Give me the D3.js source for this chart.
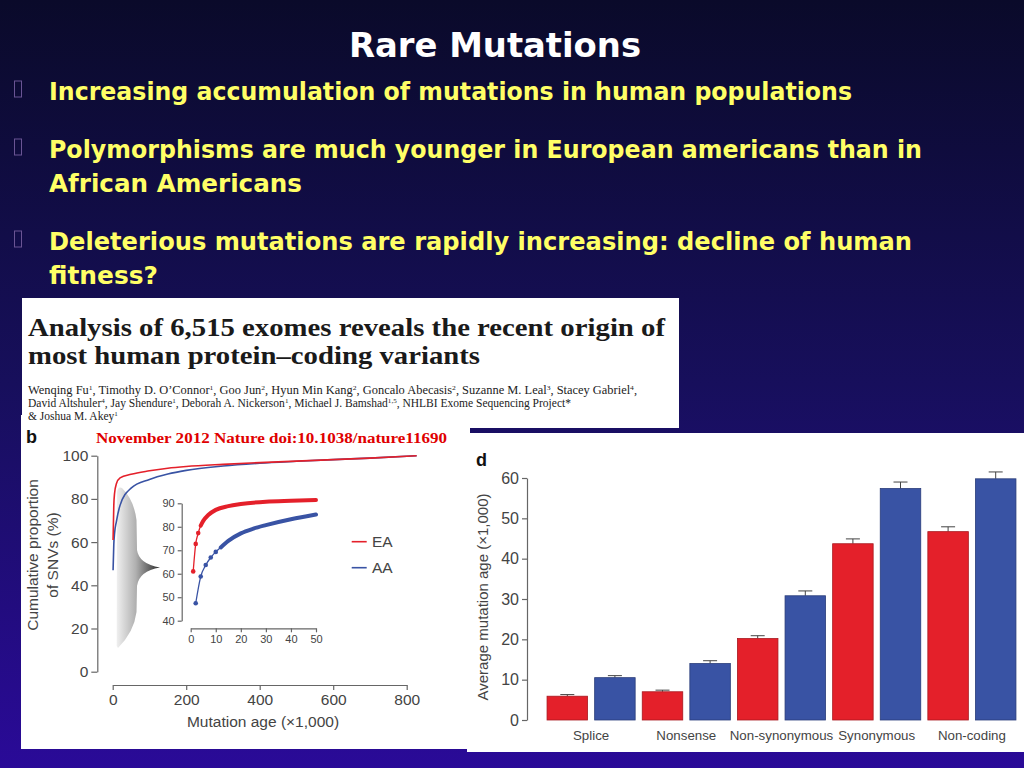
<!DOCTYPE html>
<html>
<head>
<meta charset="utf-8">
<script src="https://cdn.jsdelivr.net/npm/d3@7"></script>
<style>
  body { margin: 0; background: #0a0a2c; }
  svg { display: block; }
</style>
</head>
<body>
<div id="slide"></div>
<script>
// SLIDE TEXT
const slideTitle = "Rare Mutations";
const bulletLines = [
  ["Increasing accumulation of mutations in human populations"],
  ["Polymorphisms are much younger in European americans than in", "African Americans"],
  ["Deleterious mutations are rapidly increasing: decline of human", "fitness?"]
];
const paperTitle = ["Analysis of 6,515 exomes reveals the recent origin of", "most human protein\u2013coding variants"];
const authors1 = [["Wenqing Fu", "1"], ["Timothy D. O\u2019Connor", "1"], ["Goo Jun", "2"], ["Hyun Min Kang", "2"], ["Goncalo Abecasis", "2"], ["Suzanne M. Leal", "3"], ["Stacey Gabriel", "4"]];
const authors2 = [["David Altshuler", "4"], ["Jay Shendure", "1"], ["Deborah A. Nickerson", "1"], ["Michael J. Bamshad", "1,5"], ["NHLBI Exome Sequencing Project*", ""]];
const authors3 = [["& Joshua M. Akey", "1"]];
const citation = "November 2012 Nature doi:10.1038/nature11690";

// PANEL b : CUMULATIVE PROPORTION OF SNVs
const mainAge = [1, 3, 5, 10, 20, 50, 100, 150, 200, 300, 400, 500, 600, 700, 827];
const eaCum = [61, 77, 82.5, 87, 89.7, 91.4, 93, 94.2, 95, 96, 96.8, 97.5, 98.2, 98.9, 100];
const aaCum = [47, 59, 64, 69.5, 77, 85, 89, 91.5, 93.2, 95.2, 96.5, 97.4, 98.2, 98.9, 100];
const mainXTicks = [0, 200, 400, 600, 800];
const mainYTicks = [0, 20, 40, 60, 80, 100];

// INSET (first 50,000 years)
const eaInsetAge = [1, 2, 3, 4, 5, 7, 10, 15, 20, 30, 40, 50];
const eaInset = [61, 72.7, 77.3, 80.5, 82.5, 85, 87.2, 88.8, 89.7, 90.7, 91.1, 91.4];
const aaInsetAge = [2, 4, 6, 8, 10, 12, 15, 20, 25, 30, 40, 50];
const aaInset = [47.4, 58.8, 63.7, 66.9, 69.3, 71.2, 74, 77.2, 79.2, 80.7, 83.2, 85.2];
const insetXTicks = [0, 10, 20, 30, 40, 50];
const insetYTicks = [40, 50, 60, 70, 80, 90];

// PANEL d : AVERAGE MUTATION AGE
const categories = ["Splice", "Nonsense", "Non-synonymous", "Synonymous", "Non-coding"];
const populations = ["EA", "AA"];
const eaMean = [5.9, 7.0, 20.2, 43.7, 46.7];
const eaUpper = [6.3, 7.4, 20.9, 44.9, 47.9];
const aaMean = [10.5, 14.0, 30.8, 57.4, 59.8];
const aaUpper = [11.0, 14.7, 32.0, 59.0, 61.5];
const barYTicks = [0, 10, 20, 30, 40, 50, 60];

const RED = "#e4202a";
const BLUE = "#3953a4";
const AXIS = "#666";
const LABEL = "#444";

const w = 1024, h = 768;
const svg = d3.select("#slide").append("svg").attr("width", w).attr("height", h);
const defs = svg.append("defs");

// BACKGROUND
const bg = defs.append("linearGradient").attr("id", "bg").attr("x1", 0).attr("y1", 0).attr("x2", 0).attr("y2", 1);
bg.append("stop").attr("offset", "0%").attr("stop-color", "#0a0a2a");
bg.append("stop").attr("offset", "50%").attr("stop-color", "#170f5c");
bg.append("stop").attr("offset", "100%").attr("stop-color", "#2a0a98");
svg.append("rect").attr("width", w).attr("height", h).attr("fill", "url(#bg)");

// TITLE + BULLETS
const slideFont = "'DejaVu Sans', sans-serif";
svg.append("text").attr("x", 349).attr("y", 57).attr("textLength", 292).attr("lengthAdjust", "spacingAndGlyphs")
  .style("font-family", slideFont).style("font-weight", "bold").style("font-size", "33px").attr("fill", "#fff")
  .text(slideTitle);

const bulletY = [100, 158, 250];
const lineWidths = [[803], [873, 253], [863, 109]];
bulletLines.forEach((lines, i) => {
  svg.append("rect").attr("x", 14.5).attr("y", bulletY[i] - 19).attr("width", 7).attr("height", 16)
    .attr("fill", "none").attr("stroke", "#6a5494").attr("stroke-width", 1);
  lines.forEach((line, j) => {
    svg.append("text").attr("x", 49).attr("y", bulletY[i] + j * 34)
      .attr("textLength", lineWidths[i][j]).attr("lengthAdjust", "spacingAndGlyphs")
      .style("font-family", slideFont).style("font-weight", "bold").style("font-size", "25px")
      .attr("fill", "#ffff66").text(line);
  });
});

// LEFT PANEL (b)
svg.append("rect").attr("x", 21).attr("y", 415).attr("width", 449).attr("height", 334).attr("fill", "#fff");
// RIGHT PANEL (d)
svg.append("rect").attr("x", 467).attr("y", 433).attr("width", 557).attr("height", 319).attr("fill", "#fff");

// PAPER HEADER PANEL
svg.append("rect").attr("x", 22).attr("y", 298).attr("width", 657).attr("height", 130).attr("fill", "#fff");
const serif = "'Liberation Serif', 'DejaVu Serif', serif";
paperTitle.forEach((t, i) => {
  svg.append("text").attr("x", 28).attr("y", 336 + i * 28)
    .attr("textLength", i === 0 ? 637 : 452).attr("lengthAdjust", "spacingAndGlyphs")
    .style("font-family", serif).style("font-weight", "bold").style("font-size", "26px").attr("fill", "#1a1a1a")
    .text(t);
});

function authorLine(list, y, len, trailing) {
  const t = svg.append("text").attr("x", 28).attr("y", y)
    .style("font-family", serif).style("font-size", "11.5px").attr("fill", "#222");
  if (len) t.attr("textLength", len).attr("lengthAdjust", "spacingAndGlyphs");
  let raised = false;
  list.forEach((a, i) => {
    const name = t.append("tspan").text((i > 0 ? ", " : "") + a[0]);
    if (raised) name.attr("dy", 4);
    raised = false;
    if (a[1]) {
      t.append("tspan").attr("dy", -4).style("font-size", "7px").text(a[1]);
      raised = true;
    }
  });
  if (trailing) {
    const tr = t.append("tspan").text(trailing);
    if (raised) tr.attr("dy", 4);
  }
}
authorLine(authors1, 394, 609, ",");
authorLine(authors2, 407, 543, "");
authorLine(authors3, 420, null, "");

// ---------- PANEL b ----------
const sans = "'Liberation Sans', Arial, sans-serif";
svg.append("text").attr("x", 26).attr("y", 443).style("font-family", sans).style("font-weight", "bold")
  .style("font-size", "18px").attr("fill", "#111").text("b");
svg.append("text").attr("x", 96).attr("y", 443).attr("textLength", 351).attr("lengthAdjust", "spacingAndGlyphs")
  .style("font-family", serif).style("font-weight", "bold").style("font-size", "15px").attr("fill", "#e00000")
  .text(citation);

const xMain = d3.scaleLinear().domain([0, 800]).range([112.7, 406.7]);
const yMain = d3.scaleLinear().domain([0, 100]).range([671.7, 455.7]);

function styleAxis(g, size) {
  g.selectAll("path.domain").attr("stroke", AXIS).attr("stroke-width", 1.2);
  g.selectAll(".tick line").attr("stroke", AXIS).attr("stroke-width", 1.2);
  g.selectAll(".tick text").attr("fill", LABEL).style("font-family", sans).style("font-size", size);
}

svg.append("g").attr("transform", "translate(97.3,0)")
  .call(d3.axisLeft(yMain).tickValues(mainYTicks).tickSize(6).tickSizeOuter(0).tickPadding(3))
  .call((g) => styleAxis(g, "15.5px"));
svg.append("g").attr("transform", "translate(0,685)")
  .call(d3.axisBottom(xMain).tickValues(mainXTicks).tickSize(5).tickSizeOuter(0).tickPadding(4))
  .call((g) => styleAxis(g, "15.5px"));

svg.append("text").attr("x", 263).attr("y", 727).attr("text-anchor", "middle")
  .style("font-family", sans).style("font-size", "15.5px").attr("fill", LABEL).text("Mutation age (\u00d71,000)");
svg.append("text").attr("transform", "translate(38,555) rotate(-90)").attr("text-anchor", "middle")
  .style("font-family", sans).style("font-size", "15.5px").attr("fill", LABEL).text("Cumulative proportion");
svg.append("text").attr("transform", "translate(58,555) rotate(-90)").attr("text-anchor", "middle")
  .style("font-family", sans).style("font-size", "15.5px").attr("fill", LABEL).text("of SNVs (%)");

// zoom brace
const brace = defs.append("linearGradient").attr("id", "brace").attr("gradientUnits", "userSpaceOnUse")
  .attr("x1", 116).attr("y1", 0).attr("x2", 160).attr("y2", 0);
brace.append("stop").attr("offset", "0%").attr("stop-color", "#f2f2f2");
brace.append("stop").attr("offset", "45%").attr("stop-color", "#b0b0b0");
brace.append("stop").attr("offset", "100%").attr("stop-color", "#2a2a2a");
svg.append("path")
  .attr("d", "M116.7,646 L117,492 Q118,486 122,488 Q134,500 136.5,520 L137,550 Q139,564 160,567.5 Q139,571 137,586 L136.5,612 Q134,632 118,648 Z")
  .attr("fill", "url(#brace)");

const mainLine = d3.line().x((d) => xMain(d[0])).y((d) => yMain(d[1])).curve(d3.curveMonotoneX);
svg.append("path").attr("d", mainLine(d3.zip(mainAge, aaCum))).attr("fill", "none").attr("stroke", BLUE).attr("stroke-width", 1.6);
svg.append("path").attr("d", mainLine(d3.zip(mainAge, eaCum))).attr("fill", "none").attr("stroke", RED).attr("stroke-width", 1.6);

// inset
const xIn = d3.scaleLinear().domain([0, 50]).range([190.7, 316]);
const yIn = d3.scaleLinear().domain([40, 90]).range([620.7, 503.3]);
svg.append("g").attr("transform", "translate(181.7,0)")
  .call(d3.axisLeft(yIn).tickValues(insetYTicks).tickSize(4).tickSizeOuter(0).tickPadding(3))
  .call((g) => styleAxis(g, "11px"));
svg.append("g").attr("transform", "translate(0,628.3)")
  .call(d3.axisBottom(xIn).tickValues(insetXTicks).tickSize(4).tickSizeOuter(0).tickPadding(3))
  .call((g) => styleAxis(g, "11px"));

const inLine = d3.line().x((d) => xIn(d[0])).y((d) => yIn(d[1])).curve(d3.curveMonotoneX);
function insetSeries(ages, vals, color, solidFrom) {
  const pts = d3.zip(ages, vals);
  svg.append("path").attr("d", inLine(pts)).attr("fill", "none").attr("stroke", color).attr("stroke-width", 1.3);
  svg.append("path").attr("d", inLine(pts.filter((d) => d[0] >= solidFrom)))
    .attr("fill", "none").attr("stroke", color).attr("stroke-width", 4).attr("stroke-linecap", "round");
  svg.selectAll(null).data(pts.filter((d) => d[0] < solidFrom)).enter().append("circle")
    .attr("cx", (d) => xIn(d[0])).attr("cy", (d) => yIn(d[1])).attr("r", 2.3).attr("fill", color);
}
insetSeries(eaInsetAge, eaInset, RED, 4);
insetSeries(aaInsetAge, aaInset, BLUE, 12);

// legend
const legendColors = [RED, BLUE];
populations.forEach((p, i) => {
  const y = 541.7 + i * 26;
  svg.append("line").attr("x1", 351.7).attr("x2", 366.7).attr("y1", y).attr("y2", y)
    .attr("stroke", legendColors[i]).attr("stroke-width", 1.6);
  svg.append("text").attr("x", 372).attr("y", y + 5.5).style("font-family", sans).style("font-size", "15.5px")
    .attr("fill", LABEL).text(p);
});

// ---------- PANEL d ----------
svg.append("text").attr("x", 476).attr("y", 466).style("font-family", sans).style("font-weight", "bold")
  .style("font-size", "18px").attr("fill", "#111").text("d");

const yBar = d3.scaleLinear().domain([0, 60]).range([720, 478]);
const x0 = d3.scaleBand().domain(categories).range([543.5, 1019.5]).paddingInner(0).paddingOuter(0);
const x1 = d3.scaleBand().domain(populations).range([0, x0.bandwidth()]).paddingInner(0.149).paddingOuter(0.0745);

svg.append("g").attr("transform", "translate(527,0)")
  .call(d3.axisLeft(yBar).tickValues(barYTicks).tickSize(5).tickSizeOuter(0).tickPadding(3))
  .call((g) => styleAxis(g, "16px"));

svg.append("text").attr("transform", "translate(488,597) rotate(-90)").attr("text-anchor", "middle")
  .style("font-family", sans).style("font-size", "15px").attr("fill", LABEL).text("Average mutation age (\u00d71,000)");

const barData = [];
categories.forEach((c, i) => {
  barData.push({ cat: c, pop: "EA", mean: eaMean[i], upper: eaUpper[i] });
  barData.push({ cat: c, pop: "AA", mean: aaMean[i], upper: aaUpper[i] });
});
const barColor = { EA: RED, AA: BLUE };
const barEdge = { EA: "#a8181e", AA: "#2a3d7a" };

const bars = svg.selectAll("g.bar").data(barData).enter().append("g").attr("class", "bar")
  .attr("transform", (d) => "translate(" + (x0(d.cat) + x1(d.pop)) + ",0)");
bars.append("line")
  .attr("x1", x1.bandwidth() / 2).attr("x2", x1.bandwidth() / 2)
  .attr("y1", (d) => yBar(d.mean)).attr("y2", (d) => yBar(d.upper))
  .attr("stroke", "#444").attr("stroke-width", 1);
bars.append("line")
  .attr("x1", x1.bandwidth() / 2 - 7).attr("x2", x1.bandwidth() / 2 + 7)
  .attr("y1", (d) => yBar(d.upper)).attr("y2", (d) => yBar(d.upper))
  .attr("stroke", "#444").attr("stroke-width", 1);
bars.append("rect")
  .attr("y", (d) => yBar(d.mean)).attr("width", x1.bandwidth())
  .attr("height", (d) => yBar(0) - yBar(d.mean))
  .attr("fill", (d) => barColor[d.pop]).attr("stroke", (d) => barEdge[d.pop]).attr("stroke-width", 0.8);

svg.selectAll("text.cat").data(categories).enter().append("text").attr("class", "cat")
  .attr("x", (d) => x0(d) + x0.bandwidth() / 2).attr("y", 740).attr("text-anchor", "middle")
  .style("font-family", sans).style("font-size", "13.3px").attr("fill", LABEL).text((d) => d);
</script>
</body>
</html>
